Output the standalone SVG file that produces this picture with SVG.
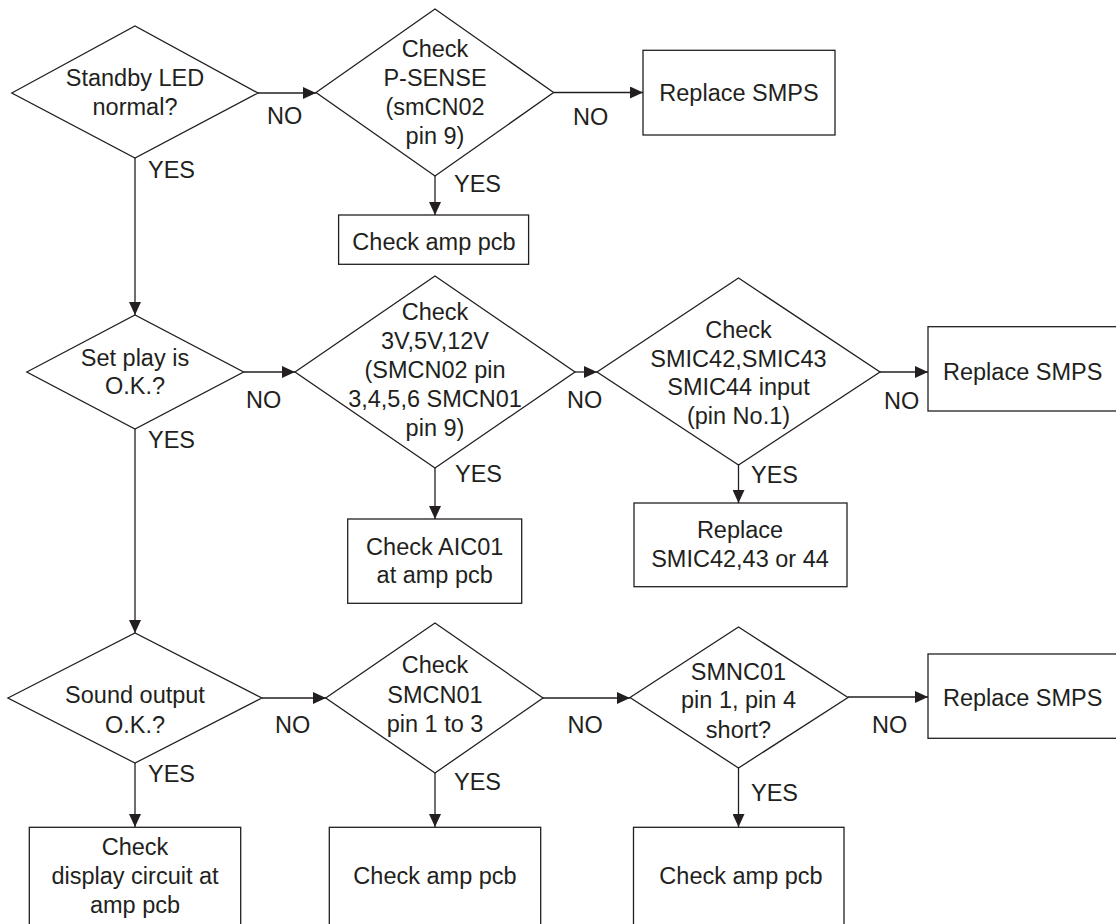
<svg xmlns="http://www.w3.org/2000/svg" width="1116" height="924" viewBox="0 0 1116 924">
<defs>
<marker id="arr" markerUnits="userSpaceOnUse" markerWidth="13" markerHeight="12" refX="13" refY="6" orient="auto">
<path d="M0,0 L13,6 L0,12 z" fill="#231f20"/>
</marker>
<style>
.s{fill:#fff;stroke:#231f20;stroke-width:1.3}
.c{fill:none;stroke:#231f20;stroke-width:1.3;marker-end:url(#arr)}
text{font-family:"Liberation Sans",Arial,Helvetica,sans-serif;font-size:23.5px;fill:#231f20}
.m{text-anchor:middle}
</style>
</defs>
<rect width="1116" height="924" fill="#fff"/>
<g id="connectors">
<line class="c" x1="258" y1="93" x2="316" y2="93"/>
<line class="c" x1="553.6" y1="92.5" x2="643" y2="92.5"/>
<line class="c" x1="435" y1="176" x2="435" y2="215"/>
<line class="c" x1="135" y1="158" x2="135" y2="315"/>
<line class="c" x1="243.6" y1="372" x2="295" y2="372"/>
<line class="c" x1="435" y1="468" x2="435" y2="519"/>
<line class="c" x1="575" y1="372" x2="597" y2="372"/>
<line class="c" x1="880" y1="372" x2="928" y2="372"/>
<line class="c" x1="738.5" y1="465" x2="738.5" y2="503"/>
<line class="c" x1="135" y1="429" x2="135" y2="633"/>
<line class="c" x1="262" y1="698" x2="326" y2="698"/>
<line class="c" x1="543" y1="698" x2="630" y2="698"/>
<line class="c" x1="848" y1="697" x2="928" y2="697"/>
<line class="c" x1="135" y1="763" x2="135" y2="827"/>
<line class="c" x1="435" y1="773" x2="435" y2="827"/>
<line class="c" x1="738.5" y1="768" x2="738.5" y2="827"/>
<text x="267" y="124">NO</text>
<text x="573" y="125">NO</text>
<text x="148" y="178">YES</text>
<text x="454" y="192">YES</text>
<text x="246" y="408">NO</text>
<text x="567" y="408">NO</text>
<text x="884" y="409">NO</text>
<text x="148" y="448">YES</text>
<text x="455" y="482">YES</text>
<text x="751" y="483">YES</text>
<text x="275" y="733">NO</text>
<text x="567.5" y="733">NO</text>
<text x="872" y="733">NO</text>
<text x="148" y="782">YES</text>
<text x="454" y="790">YES</text>
<text x="751" y="801">YES</text>
</g>
<g id="d1">
<polygon class="s" points="11.8,93 135,26 258,93 135,158"/>
<text class="m" x="135" y="86">Standby LED</text>
<text class="m" x="135" y="115">normal?</text>
</g>
<g id="d2">
<polygon class="s" points="316,92.5 435,9 553.6,92.5 435,176"/>
<text class="m" x="435" y="57">Check</text>
<text class="m" x="435" y="86">P-SENSE</text>
<text class="m" x="435" y="115">(smCN02</text>
<text class="m" x="435" y="144">pin 9)</text>
</g>
<g id="b_smps1">
<rect class="s" x="643" y="50.3" width="192" height="84.7"/>
<text class="m" x="739" y="101">Replace SMPS</text>
</g>
<g id="b_amp1">
<rect class="s" x="338.6" y="215" width="190" height="49.3"/>
<text class="m" x="434" y="250">Check amp pcb</text>
</g>
<g id="d3">
<polygon class="s" points="26.8,372 135,315 243.6,372 135,429"/>
<text class="m" x="135" y="366">Set play is</text>
<text class="m" x="135" y="394">O.K.?</text>
</g>
<g id="d4">
<polygon class="s" points="295,372 435,276 575,372 435,468"/>
<text class="m" x="435" y="320">Check</text>
<text class="m" x="435" y="349">3V,5V,12V</text>
<text class="m" x="435" y="378">(SMCN02 pin</text>
<text class="m" x="435" y="407">3,4,5,6 SMCN01</text>
<text class="m" x="435" y="436">pin 9)</text>
</g>
<g id="b_aic">
<rect class="s" x="347.7" y="519" width="174" height="84.3"/>
<text class="m" x="434.7" y="555">Check AIC01</text>
<text class="m" x="434.7" y="583">at amp pcb</text>
</g>
<g id="d5">
<polygon class="s" points="597,372 738.5,278 880,372 738.5,465"/>
<text class="m" x="738.5" y="338">Check</text>
<text class="m" x="738.5" y="367">SMIC42,SMIC43</text>
<text class="m" x="738.5" y="395">SMIC44 input</text>
<text class="m" x="738.5" y="424">(pin No.1)</text>
</g>
<g id="b_smps2">
<rect class="s" x="928" y="326.7" width="200" height="84.3"/>
<text x="943" y="380">Replace SMPS</text>
</g>
<g id="b_smic">
<rect class="s" x="634" y="503" width="213" height="83.7"/>
<text class="m" x="740" y="538">Replace</text>
<text class="m" x="740" y="567">SMIC42,43 or 44</text>
</g>
<g id="d6">
<polygon class="s" points="7.9,698 135,633 261.8,698 135,763"/>
<text class="m" x="135" y="703">Sound output</text>
<text class="m" x="135" y="733">O.K.?</text>
</g>
<g id="d7">
<polygon class="s" points="325.7,698 435,623 543,698 435,773"/>
<text class="m" x="435" y="673">Check</text>
<text class="m" x="435" y="703">SMCN01</text>
<text class="m" x="435" y="732">pin 1 to 3</text>
</g>
<g id="d8">
<polygon class="s" points="630,697.5 738.5,627 848,697.5 738.5,768"/>
<text class="m" x="738.5" y="680">SMNC01</text>
<text class="m" x="738.5" y="708">pin 1, pin 4</text>
<text class="m" x="738.5" y="738">short?</text>
</g>
<g id="b_smps3">
<rect class="s" x="928" y="654" width="200" height="84.3"/>
<text x="943" y="706">Replace SMPS</text>
</g>
<g id="b_display">
<rect class="s" x="29.3" y="827.3" width="211.4" height="110"/>
<text class="m" x="135" y="855">Check</text>
<text class="m" x="135" y="884">display circuit at</text>
<text class="m" x="135" y="913">amp pcb</text>
</g>
<g id="b_amp2">
<rect class="s" x="329.3" y="827.3" width="211.4" height="110"/>
<text class="m" x="435" y="884">Check amp pcb</text>
</g>
<g id="b_amp3">
<rect class="s" x="633.5" y="827.3" width="210.5" height="110"/>
<text class="m" x="741" y="884">Check amp pcb</text>
</g>
</svg>
